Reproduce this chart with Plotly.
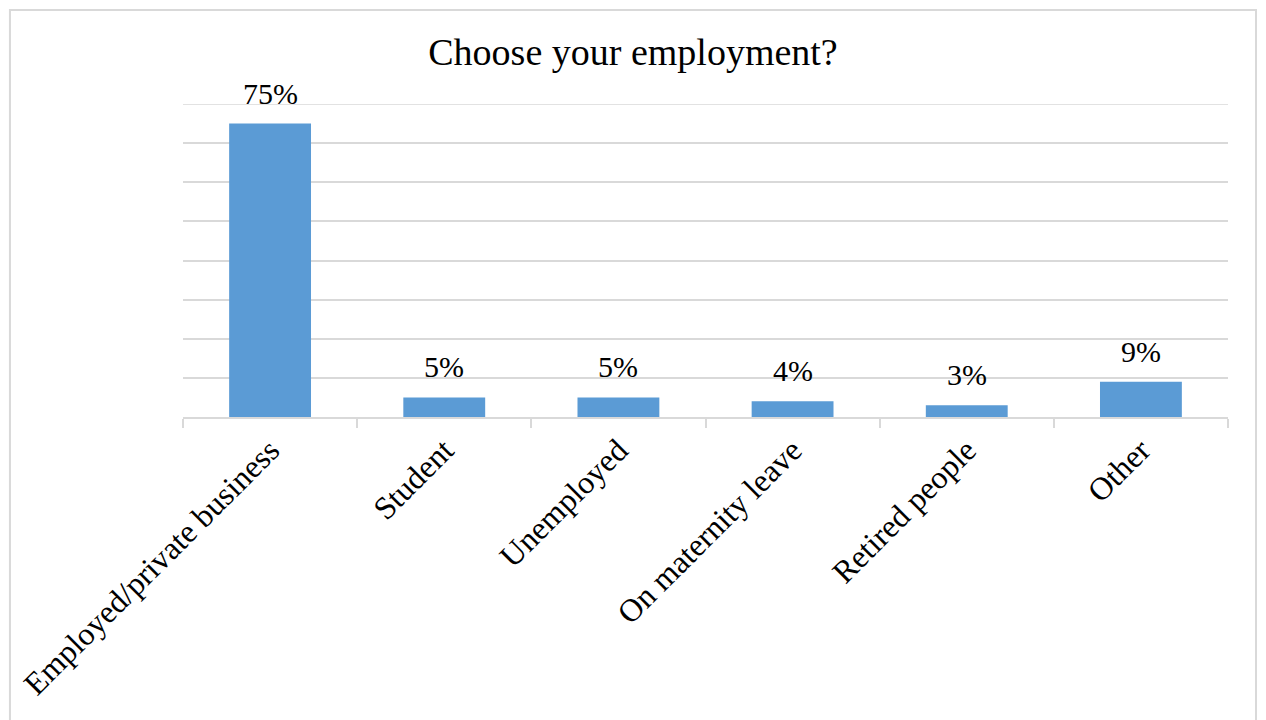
import plotly.graph_objects as go

# Survey answers: employment status
categories = [
    "Employed/private business",
    "Student",
    "Unemployed",
    "On maternity leave",
    "Retired people",
    "Other",
]
shares = [75, 5, 5, 4, 3, 9]
share_labels = ["75%", "5%", "5%", "4%", "3%", "9%"]
Y_MAX = 80

FONT = "Liberation Serif, Times New Roman, serif"
GRID = "#d9d9d9"
BAR = "#5b9bd5"

fig = go.Figure(
    go.Bar(
        x=categories,
        y=shares,
        marker=dict(color=BAR, line=dict(width=0)),
        width=0.47,
        hoverinfo="skip",
    )
)

# value labels above each bar
for cat, val, lab in zip(categories, shares, share_labels):
    fig.add_annotation(
        x=cat, y=val, text=lab, showarrow=False,
        yanchor="bottom", yshift=12,
        font=dict(family=FONT, size=30, color="black"),
    )

# top gridline sits on the plot edge, so draw it explicitly
fig.add_shape(
    type="line", xref="paper", yref="y", x0=0, x1=1, y0=Y_MAX, y1=Y_MAX,
    line=dict(color=GRID, width=1.5), layer="below",
)

# outer frame of the chart
fig.add_shape(
    type="rect", xref="paper", yref="paper",
    x0=-0.1656, x1=1.0268, y0=-1.2, y1=1.3003,
    line=dict(color=GRID, width=2), fillcolor="rgba(0,0,0,0)", layer="below",
)

fig.update_layout(
    width=1266, height=720,
    margin=dict(l=183, r=38, t=104, b=303),
    paper_bgcolor="white", plot_bgcolor="white",
    showlegend=False,
    title=dict(
        text="Choose your employment?",
        x=0.5, xref="container", xanchor="center",
        y=1 - 52 / 720, yanchor="middle",
        font=dict(family=FONT, size=38, color="black"),
    ),
    xaxis=dict(
        type="category",
        tickangle=-45,
        tickfont=dict(family=FONT, size=32, color="black"),
        showline=True, linecolor=GRID, linewidth=1.5,
        ticks="outside", tickson="boundaries", ticklen=9, tickcolor=GRID, tickwidth=1.5,
        showgrid=False,
    ),
    yaxis=dict(
        range=[0, Y_MAX], dtick=10,
        showticklabels=False,
        showgrid=True, gridcolor=GRID, gridwidth=1.5,
        zeroline=False, showline=False, ticks="",
    ),
)

fig.write_html("out.html")
